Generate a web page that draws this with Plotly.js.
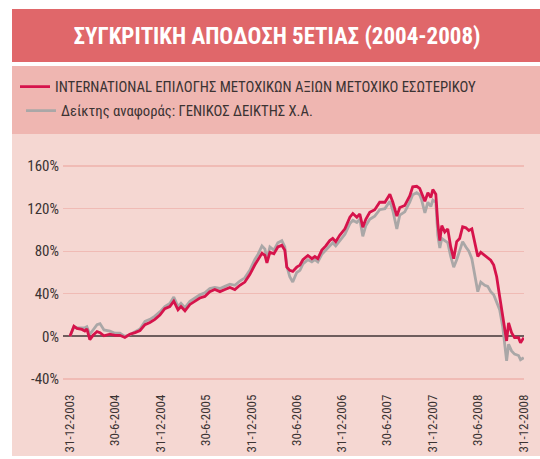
<!DOCTYPE html>
<html>
<head>
<meta charset="utf-8">
<script src="https://cdn.plot.ly/plotly-3.0.1.min.js"></script>
<style>
html,body{margin:0;padding:0;background:#fff;}
#chart{width:540px;height:459px;}
#chart text{font-stretch:condensed;}
</style>
</head>
<body>
<div id="chart"></div>
<script>
// ---- data ----
const dates = [
"2003-12-31","2004-01-16","2004-01-28","2004-02-17","2004-02-29","2004-03-08","2004-03-20","2004-04-02","2004-04-18","2004-04-30",
"2004-05-16","2004-06-09","2004-06-29","2004-07-19","2004-08-08","2004-08-28","2004-09-18","2004-10-08","2004-10-28","2004-11-17",
"2004-12-07","2004-12-27","2005-01-16","2005-02-05","2005-02-21","2005-03-10","2005-03-22","2005-04-07","2005-04-27","2005-05-17",
"2005-06-06","2005-06-26","2005-07-16","2005-08-05","2005-08-26","2005-09-15","2005-10-05","2005-10-25","2005-11-14","2005-12-04",
"2005-12-24","2006-01-13","2006-01-26","2006-02-11","2006-02-23","2006-03-03","2006-03-15","2006-03-31","2006-04-16","2006-05-02",
"2006-05-14","2006-05-22","2006-06-03","2006-06-15","2006-07-01","2006-07-14","2006-07-26","2006-08-15","2006-08-31","2006-09-12",
"2006-09-24","2006-10-10","2006-10-26","2006-11-11","2006-11-23","2006-12-05","2006-12-21","2007-01-11","2007-01-31","2007-02-12",
"2007-02-28","2007-03-12","2007-03-24","2007-04-05","2007-04-21","2007-05-11","2007-05-31","2007-06-21","2007-07-11","2007-07-23",
"2007-08-08","2007-08-20","2007-09-09","2007-09-29","2007-10-11","2007-10-27","2007-11-08","2007-11-16","2007-11-29","2007-12-11",
"2007-12-23","2007-12-31","2008-01-12","2008-01-20","2008-01-28","2008-02-05","2008-02-17","2008-02-29","2008-03-12","2008-03-24",
"2008-04-05","2008-04-17","2008-04-29","2008-05-12","2008-05-24","2008-06-05","2008-06-17","2008-06-29","2008-07-11","2008-07-27",
"2008-08-08","2008-08-20","2008-09-01","2008-09-13","2008-09-25","2008-10-07","2008-10-15","2008-10-23","2008-10-31","2008-11-12",
"2008-11-24","2008-12-10","2008-12-18","2008-12-31"
];
const fundValues = [
0,9.5,7.5,6.5,5,7,-3,1,4.5,3.5,
0.5,2,1,1,-1,2,3.5,5.5,11,13,
16,20,26,28,33,25,28,24,30,33,
36,37.5,42,44,42,44,46,44,48,51,
58,67,72,78,76,69,79,77.5,84,85.5,
81,65,62,61,65,67,72,76,73,75,
73,81,85,90,92,89,95,101,112,115.5,
112,115,102.5,110,116.5,119,126,126,133.5,126,
113,121,123,132,140.5,141,139,135,127,135,
130.5,138,133.5,106,90,104,98,101,84,73,
89,92,103,102,99.5,101,89,75,79,76,
73,71.5,67,56,37.5,19,6.5,-4.3,12.7,3.4,
-1.2,-1.2,-6,-1.2
];
const indexValues = [
0,9,8,8,8,9,2,6,11,12,
6,5,3,3,0,1.5,4,7,14,16,
19,23,28,31,37,28,31,27,33,36,
39,41,45,46,45,47,49,48,52,55,
62,72,77,85,82,72,84,81,88,90,
84,66,56,51,60,62,68,72,70,72,
70,77,81,86,88,85,90,96,106,109,
107,110,94,104,110,113,119,120,127,118,
101,114,117,126,133,135,133,128,116,126,
122,128,126,95,83,92,90,88,75,65,
72,80,89,84,80,73,56,42,51,48,
47,42,39,31,25,9.6,-6,-23,-7.4,-13.7,
-16.7,-18,-22,-20
];
const seriesNames = [
"INTERNATIONAL ΕΠΙΛΟΓΗΣ ΜΕΤΟΧΙΚΩΝ ΑΞΙΩΝ ΜΕΤΟΧΙΚΟ ΕΣΩΤΕΡΙΚΟΥ",
"Δείκτης αναφοράς: ΓΕΝΙΚΟΣ ΔΕΙΚΤΗΣ Χ.Α."
];
const chartTitle = "ΣΥΓΚΡΙΤΙΚΗ ΑΠΟΔΟΣΗ 5ΕΤΙΑΣ (2004-2008)";
const xTickVals = ["2003-12-31","2004-06-30","2004-12-31","2005-06-30","2005-12-31","2006-06-30","2006-12-31","2007-06-30","2007-12-31","2008-06-30","2008-12-31"];
const xTickText = ["31-12-2003","30-6-2004","31-12-2004","30-6-2005","31-12-2005","30-6-2006","31-12-2006","30-6-2007","31-12-2007","30-6-2008","31-12-2008"];
const yTickVals = [-40,0,40,80,120,160];
const yTickText = ["-40%","0%","40%","80%","120%","160%"];

// ---- layout helpers ----
const W = 540, H = 459;
const L = 63, R = 524, T = 165, B = 380;
const px = x => (x - L) / (R - L);
const py = y => (B - y) / (B - T);
const FONT = "Roboto, sans-serif";
const TXT = "#3b3333";

const traces = [
  {x: dates, y: indexValues, type: "scatter", mode: "lines", name: seriesNames[1],
   line: {color: "#aaa7a7", width: 2.8}, legend: "legend2", hoverinfo: "skip"},
  {x: dates, y: fundValues, type: "scatter", mode: "lines", name: seriesNames[0],
   line: {color: "#d6134b", width: 2.8}, legend: "legend", hoverinfo: "skip"}
];

const layout = {
  width: W, height: H,
  margin: {l: L, r: W - R, t: T, b: H - B, pad: 0},
  paper_bgcolor: "#ffffff",
  plot_bgcolor: "rgba(0,0,0,0)",
  font: {family: FONT, color: TXT, size: 13},
  title: {text: chartTitle, font: {family: FONT, size: 23, color: "#ffffff", weight: "bold"},
          xref: "paper", x: px(277), xanchor: "center", yref: "container", y: 1 - 36 / H, yanchor: "middle"},
  showlegend: true,
  legend: {x: px(21), y: py(87), xanchor: "left", yanchor: "middle", bgcolor: "rgba(0,0,0,0)",
           font: {family: FONT, size: 14.7, color: TXT}, itemwidth: 30},
  legend2: {x: px(21), y: py(111), xanchor: "left", yanchor: "middle", bgcolor: "rgba(0,0,0,0)",
           font: {family: FONT, size: 14.7, color: TXT}, itemwidth: 30},
  xaxis: {type: "date", range: ["2003-12-03", "2009-01-01"], showgrid: false, zeroline: false,
          showline: false, ticks: "", tickvals: xTickVals, ticktext: xTickText, tickangle: -90,
          tickfont: {family: FONT, size: 13, color: TXT}, ticklabelstandoff: 11, fixedrange: true},
  yaxis: {range: [-41, 161], tickvals: yTickVals, ticktext: yTickText, showgrid: true,
          gridcolor: "#f0bbb5", gridwidth: 1.2, zeroline: true, zerolinecolor: "#6e5d5d", zerolinewidth: 2.2,
          showline: false, ticks: "", tickfont: {family: FONT, size: 15, color: TXT},
          ticklabelstandoff: 3, fixedrange: true},
  shapes: [
    {type: "rect", xref: "paper", yref: "paper", x0: px(12), x1: px(541), y0: py(62), y1: py(9),
     fillcolor: "#e0676a", line: {width: 0}, layer: "below"},
    {type: "rect", xref: "paper", yref: "paper", x0: px(12), x1: px(541), y0: py(134), y1: py(66),
     fillcolor: "#efb6b1", line: {width: 0}, layer: "below"},
    {type: "rect", xref: "paper", yref: "paper", x0: px(12), x1: px(541), y0: py(456), y1: py(134),
     fillcolor: "#f5d7d2", line: {width: 0}, layer: "below"}
  ]
};

Plotly.newPlot("chart", traces, layout, {displayModeBar: false, staticPlot: true});
</script>
</body>
</html>
